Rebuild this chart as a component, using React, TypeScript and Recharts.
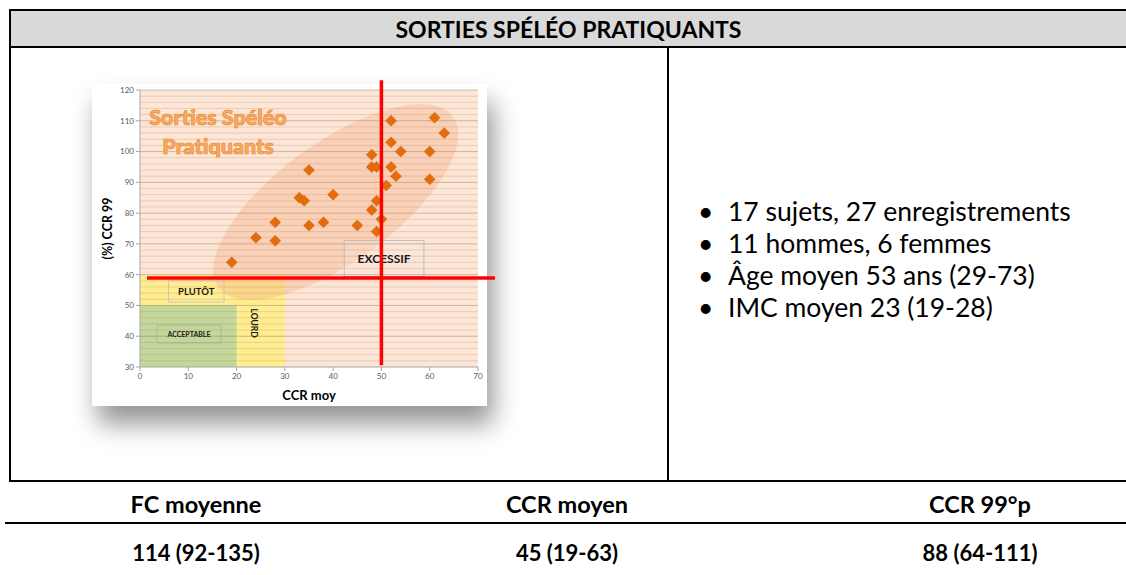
import React from "react";
import {
  ScatterChart,
  Scatter,
  XAxis,
  YAxis,
  CartesianGrid,
  ReferenceArea,
  ReferenceLine,
} from "recharts";

// CCR moyen (x) and CCR 99e percentile (y) per recording
const ccrMoy = [19, 24, 28, 28, 33, 34, 35, 35, 38, 40, 45, 48, 48, 49, 48, 49, 49, 50, 51, 52, 52, 52, 53, 54, 60, 60, 61, 63];
const ccr99 = [64, 72, 77, 71, 85, 84, 94, 76, 77, 86, 76, 99, 95, 95, 81, 84, 74, 78, 89, 110, 103, 95, 92, 100, 100, 91, 111, 106];

const xTicks = [0, 10, 20, 30, 40, 50, 60, 70];
const yTicks = [30, 40, 50, 60, 70, 80, 90, 100, 110, 120];
const minorLines = [32, 34, 36, 38, 42, 44, 46, 48, 52, 54, 56, 58, 62, 64, 66, 68, 72, 74, 76, 78, 82, 84, 86, 88, 92, 94, 96, 98, 102, 104, 106, 108, 112, 114, 116, 118];
const majorLines = [40, 50, 60, 70, 80, 90, 100, 110, 120];

const bullets = [
  "17 sujets, 27 enregistrements",
  "11 hommes, 6 femmes",
  "Âge moyen 53 ans (29-73)",
  "IMC moyen 23 (19-28)",
];

const statHeaders = ["FC moyenne", "CCR moyen", "CCR 99°p"];
const statValues = ["114 (92-135)", "45 (19-63)", "88 (64-111)"];
const statCenters = [196, 567, 980];

const points = ccrMoy.map((x, i) => ({ x, y: ccr99[i] }));

const font = "Lato, 'Open Sans', sans-serif";

const Diamond = (props: any) => {
  const { cx, cy } = props;
  const r = 5.5;
  return (
    <polygon
      points={`${cx},${cy - r} ${cx + r},${cy} ${cx},${cy + r} ${cx - r},${cy}`}
      fill="#e46c0a"
      stroke="#d0600a"
      strokeWidth={0.5}
    />
  );
};

const Ellipse = (props: any) => {
  const { x, y, width, height } = props;
  const cx = x + width / 2;
  const cy = y + height / 2;
  return (
    <ellipse
      cx={cx}
      cy={cy}
      rx={width * 0.6}
      ry={height * 0.31}
      transform={`rotate(-36 ${cx} ${cy})`}
      fill="#f4b183"
      fillOpacity={0.38}
    />
  );
};

const line = (left: number, top: number, width: number, height: number) => (
  <div style={{ position: "absolute", left, top, width, height, background: "#000" }} />
);

export default function App() {
  return (
    <div style={{ position: "relative", width: 1126, height: 575, background: "#fff", fontFamily: font, overflow: "hidden" }}>
      <style>{"body{margin:0}"}</style>

      {/* header */}
      <div style={{ position: "absolute", left: 11, top: 11, width: 1115, height: 35, background: "#d9d9d9" }} />
      <div style={{ position: "absolute", left: 11, top: 11, width: 1115, height: 35, lineHeight: "36px", textAlign: "center", fontSize: 23, fontWeight: 700, color: "#000" }}>
        SORTIES SPÉLÉO PRATIQUANTS
      </div>
      {line(9, 9, 1117, 2)}
      {line(9, 9, 2, 473)}
      {line(9, 46, 1117, 2)}
      {line(667, 48, 2, 432)}
      {line(9, 480, 1117, 2)}
      {line(5, 522, 1121, 2)}

      {/* picture frame */}
      <div
        style={{
          position: "absolute",
          left: 92,
          top: 84,
          width: 395,
          height: 322,
          background: "#fff",
          boxShadow: "6px 18px 24px rgba(0,0,0,0.42)",
        }}
      />

      <div style={{ position: "absolute", left: 80, top: 70 }}>
        <ScatterChart width={430} height={337} margin={{ top: 20, right: 32, bottom: 0, left: 0 }}>
          <CartesianGrid horizontal={false} vertical={false} fill="#fde6d6" fillOpacity={1} />
          <XAxis
            type="number"
            dataKey="x"
            domain={[0, 70]}
            ticks={xTicks}
            height={40}
            tickSize={4}
            stroke="#a6a6a6"
            tick={{ fill: "#595959", fontSize: 8, fontFamily: font }}
            label={{ value: "CCR moy", position: "insideBottom", offset: 7, fill: "#000", fontSize: 13, fontWeight: 700, fontFamily: font }}
          />
          <YAxis
            type="number"
            dataKey="y"
            domain={[30, 120]}
            ticks={yTicks}
            width={60}
            tickSize={4}
            stroke="#a6a6a6"
            tick={{ fill: "#595959", fontSize: 8, fontFamily: font }}
            label={{ value: "(%) CCR 99", angle: -90, position: "center", dx: -2, fill: "#000", fontSize: 12.5, fontWeight: 700, fontFamily: font }}
          />
          <ReferenceArea x1={0} x2={30} y1={30} y2={60} fill="#ffed8f" fillOpacity={1} stroke="none" />
          <ReferenceArea x1={0} x2={20} y1={30} y2={50} fill="#c4d79b" fillOpacity={1} stroke="none" />
          <ReferenceArea x1={15.5} x2={65.6} y1={52.4} y2={114.8} shape={<Ellipse />} />
          {minorLines.map((v) => (
            <ReferenceLine key={`m${v}`} y={v} stroke="#9c7f6e" strokeOpacity={0.24} strokeWidth={1} />
          ))}
          {majorLines.map((v) => (
            <ReferenceLine key={`M${v}`} y={v} stroke="#8c7060" strokeOpacity={0.42} strokeWidth={1} />
          ))}
          <ReferenceArea
            x1={42.3}
            x2={58.8}
            y1={59.4}
            y2={71.1}
            fill="#fde6d6"
            fillOpacity={0.3}
            stroke="#c0c0c0"
            label={{ value: "EXCESSIF", position: "center", fill: "#1a1a1a", fontSize: 12, fontWeight: 700, fontFamily: font }}
          />
          <ReferenceArea
            x1={5.9}
            x2={17.4}
            y1={51.1}
            y2={58}
            fill="none"
            stroke="#c8c8c8"
            label={{ value: "PLUTÔT", position: "center", fill: "#1a1a1a", fontSize: 9.5, fontWeight: 700, fontFamily: font }}
          />
          <ReferenceArea
            x1={3.5}
            x2={16.8}
            y1={37.8}
            y2={43.6}
            fill="none"
            stroke="#b0b8a0"
            label={{ value: "ACCEPTABLE", position: "center", fill: "#1a1a1a", fontSize: 7, fontWeight: 700, fontFamily: font }}
          />
          <ReferenceArea
            x1={22}
            x2={25.2}
            y1={38}
            y2={50.5}
            fill="none"
            stroke="none"
            label={{ value: "LOURD", position: "center", angle: 90, fill: "#1a1a1a", fontSize: 8.5, fontWeight: 700, fontFamily: font }}
          />
          <Scatter data={points} shape={<Diamond />} isAnimationActive={false} />
          <ReferenceLine
            segment={[{ x: 50, y: 30.6 }, { x: 50, y: 123.2 }]}
            ifOverflow="visible"
            stroke="#ff0000"
            strokeWidth={3.5}
            zIndex={2500}
          />
          <ReferenceLine
            segment={[{ x: 1.45, y: 58.9 }, { x: 73.5, y: 58.9 }]}
            ifOverflow="visible"
            stroke="#ff0000"
            strokeWidth={3.5}
            zIndex={2500}
          />
        </ScatterChart>
      </div>

      {/* chart inner title */}
      <div
        style={{
          position: "absolute",
          left: 128,
          top: 103,
          width: 180,
          textAlign: "center",
          fontSize: 21.5,
          lineHeight: "29px",
          fontWeight: 900,
          color: "#f8ab5e",
          WebkitTextStroke: "0.7px #ea8a3a",
          textShadow: "0 0 3px #fde0c4",
        }}
      >
        Sorties Spéléo
        <br />
        Pratiquants
      </div>

      {/* bullet list */}
      {bullets.map((b, i) => (
        <div key={b} style={{ position: "absolute", left: 698, top: 195 + i * 32, fontSize: 26.5, lineHeight: "32px", color: "#000", whiteSpace: "nowrap" }}>
          <span style={{ display: "inline-block", width: 30 }}>•</span>
          {b}
        </div>
      ))}

      {/* stats rows */}
      {statHeaders.map((h, i) => (
        <div key={h} style={{ position: "absolute", left: statCenters[i] - 150, top: 489, width: 300, textAlign: "center", fontSize: 23.5, lineHeight: "30px", fontWeight: 700, color: "#000" }}>
          {h}
        </div>
      ))}
      {statValues.map((v, i) => (
        <div key={v} style={{ position: "absolute", left: statCenters[i] - 150, top: 538, width: 300, textAlign: "center", fontSize: 22, lineHeight: "30px", fontWeight: 700, color: "#000" }}>
          {v}
        </div>
      ))}
    </div>
  );
}
